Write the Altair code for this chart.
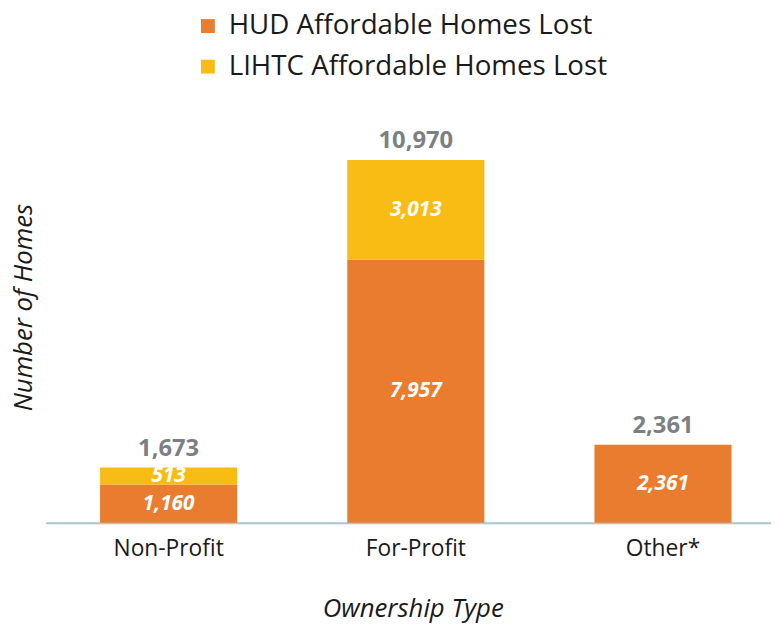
import altair as alt
import pandas as pd

categories = ["Non-Profit", "For-Profit", "Other*"]
hud_lost = [1160, 7957, 2361]
lihtc_lost = [513, 3013, 0]
totals = [1673, 10970, 2361]
series_names = ["HUD Affordable Homes Lost", "LIHTC Affordable Homes Lost"]
series_colors = ["#E97C2F", "#F8BC15"]

rows = []
for c, h, l in zip(categories, hud_lost, lihtc_lost):
    rows.append({"cat": c, "series": series_names[0], "value": h, "order": 0})
    rows.append({"cat": c, "series": series_names[1], "value": l, "order": 1})
df = pd.DataFrame(rows)
tot = pd.DataFrame({"cat": categories, "total": totals})

FONT = "Open Sans"
xscale = alt.Scale(domain=categories, paddingInner=0.4453, paddingOuter=0.19, align=0.58)
yscale = alt.Scale(domain=[0, 12000], nice=False)

xaxis = alt.Axis(title="Ownership Type", labelAngle=0, ticks=False, grid=False,
                 domainColor="#A9C5DA", domainWidth=2,
                 labelFont=FONT, labelFontSize=23, labelColor="#1a1a1a", labelPadding=15,
                 titleFont=FONT, titleFontSize=26, titleFontStyle="italic",
                 titleFontWeight="normal", titleColor="#1a1a1a",
                 titleY=95, titleX=371, titleBaseline="alphabetic")
yaxis = alt.Axis(title="Number of Homes", labels=False, ticks=False, domain=False, grid=False,
                 titleFont=FONT, titleFontSize=26, titleFontStyle="italic",
                 titleFontWeight="normal", titleColor="#1a1a1a",
                 titleX=-14, titleY=183, titleBaseline="alphabetic", titleAlign="center")

X = alt.X("cat:N", scale=xscale, sort=categories, axis=xaxis)

bars = alt.Chart(df).mark_bar().encode(
    x=X,
    y=alt.Y("value:Q", stack="zero", scale=yscale, axis=yaxis),
    color=alt.Color("series:N", scale=alt.Scale(domain=series_names, range=series_colors),
                    legend=alt.Legend(title=None, orient="none", legendX=150, legendY=-115,
                                      symbolType="square", symbolSize=196, symbolStrokeWidth=0,
                                      labelFont=FONT, labelFontSize=28, labelColor="#1a1a1a",
                                      labelOffset=7, rowPadding=13, padding=0, labelLimit=600)),
    order=alt.Order("order:Q", sort="ascending"),
)

inner = alt.Chart(df).transform_stack(
    stack="value", groupby=["cat"], sort=[alt.SortField("order", "ascending")], as_=["y0", "y1"]
).transform_calculate(
    mid="(datum.y0 + datum.y1) / 2"
).transform_filter("datum.value > 0").mark_text(
    font=FONT, fontSize=21, fontWeight="bold", fontStyle="italic", color="white", baseline="middle"
).encode(
    x=X,
    y=alt.Y("mid:Q", scale=yscale, axis=yaxis),
    text=alt.Text("value:Q", format=","),
)

top = alt.Chart(tot).mark_text(
    font=FONT, fontSize=24, fontWeight="bold", color="#7B8083", baseline="alphabetic", dy=-12
).encode(
    x=X,
    y=alt.Y("total:Q", scale=yscale, axis=yaxis),
    text=alt.Text("total:Q", format=","),
)

chart = alt.layer(bars, inner, top).properties(
    width=733, height=401, autosize="none",
    padding={"left": 38, "top": 116, "right": 0, "bottom": 102},
).configure_view(stroke=None)

chart.save("out.html", embed_options={"renderer": "svg", "actions": False})
